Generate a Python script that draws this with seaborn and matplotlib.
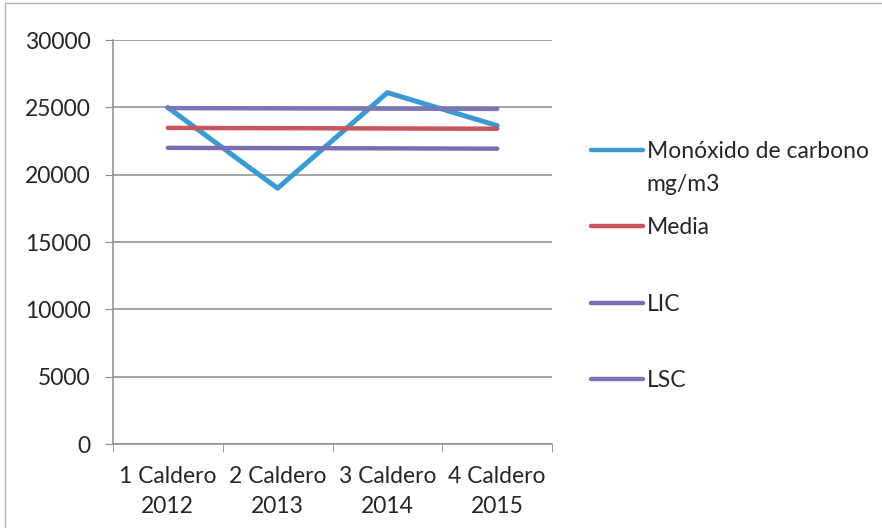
import pandas as pd
import seaborn as sns
import matplotlib.pyplot as plt
from matplotlib.patches import Rectangle
from matplotlib.transforms import IdentityTransform

# datos
calderos = ["1 Caldero\n2012", "2 Caldero\n2013", "3 Caldero\n2014", "4 Caldero\n2015"]
monoxido = [25000, 19000, 26100, 23650]
media = [23480, 23460, 23440, 23420]
lic = [22000, 21980, 21960, 21940]
lsc = [24950, 24930, 24910, 24890]

series = ["Monóxido de carbono", "Media", "LIC", "LSC"]
unidad = "mg/m3"
colores = ["#3a9ad2", "#c9545c", "#7c6db3", "#7b76b8"]

df = pd.concat([
    pd.DataFrame({"caldero": calderos, "valor": v, "serie": s})
    for s, v in zip(series, [monoxido, media, lic, lsc])
])

sns.set_style("white")
plt.rcParams['font.family'] = ['Lato', 'DejaVu Sans']
fs = 16.5

fig = plt.figure(figsize=(8.82, 5.28), dpi=100)
ax = fig.add_axes([0.128, 0.159, 0.498, 0.765])

sns.lineplot(data=df, x="caldero", y="valor", hue="serie", hue_order=series,
             palette=colores, sort=False, linewidth=3.2, ax=ax, legend=True)
ax.lines[0].set_linewidth(3.6)
handles, labels = ax.get_legend_handles_labels()
ax.get_legend().remove()

ax.set_xlim(-0.5, 3.5)
ax.set_ylim(0, 30000)
ax.set_yticks(range(0, 30001, 5000))
ax.yaxis.grid(True, color="#8c8c8c", linewidth=1.1)
ax.set_axisbelow(True)
for s in ["top", "right"]:
    ax.spines[s].set_visible(False)
for s in ["left", "bottom"]:
    ax.spines[s].set_color("#8c8c8c")
    ax.spines[s].set_linewidth(1.1)
ax.set_xlabel("")
ax.set_ylabel("")
ax.tick_params(axis="y", length=6, color="#8c8c8c", labelsize=fs, pad=10, left=True)
ax.tick_params(axis="x", length=0, labelsize=fs, pad=16)
ax.set_xticks(range(4))
ax.set_xticklabels(calderos)
for t in ax.get_xticklabels():
    t.set_linespacing(1.5)
ax.set_xticks([-0.5, 0.5, 1.5, 2.5, 3.5], minor=True)
ax.tick_params(axis="x", which="minor", length=6, color="#8c8c8c", bottom=True)

leg = fig.legend(handles, labels, loc="upper left", bbox_to_anchor=(0.647, 0.772),
                 frameon=False, fontsize=fs, handlelength=2.27, handletextpad=0.15,
                 labelspacing=2.42)
for h in leg.get_lines():
    h.set_linewidth(3.2)

# segunda línea de la primera entrada (como en Excel, bajo el texto)
fig.canvas.draw()
bb = leg.get_texts()[0].get_window_extent()
fig.text(bb.x0, bb.y0 - 12, unidad, transform=IdentityTransform(),
         va="top", ha="left", fontsize=fs)

fig.patches.append(Rectangle((0.006, -0.01), 1.1, 1.004, transform=fig.transFigure,
                             fill=False, edgecolor="#b0b0b0", linewidth=1.0))

fig.savefig("out.png", dpi=100)
